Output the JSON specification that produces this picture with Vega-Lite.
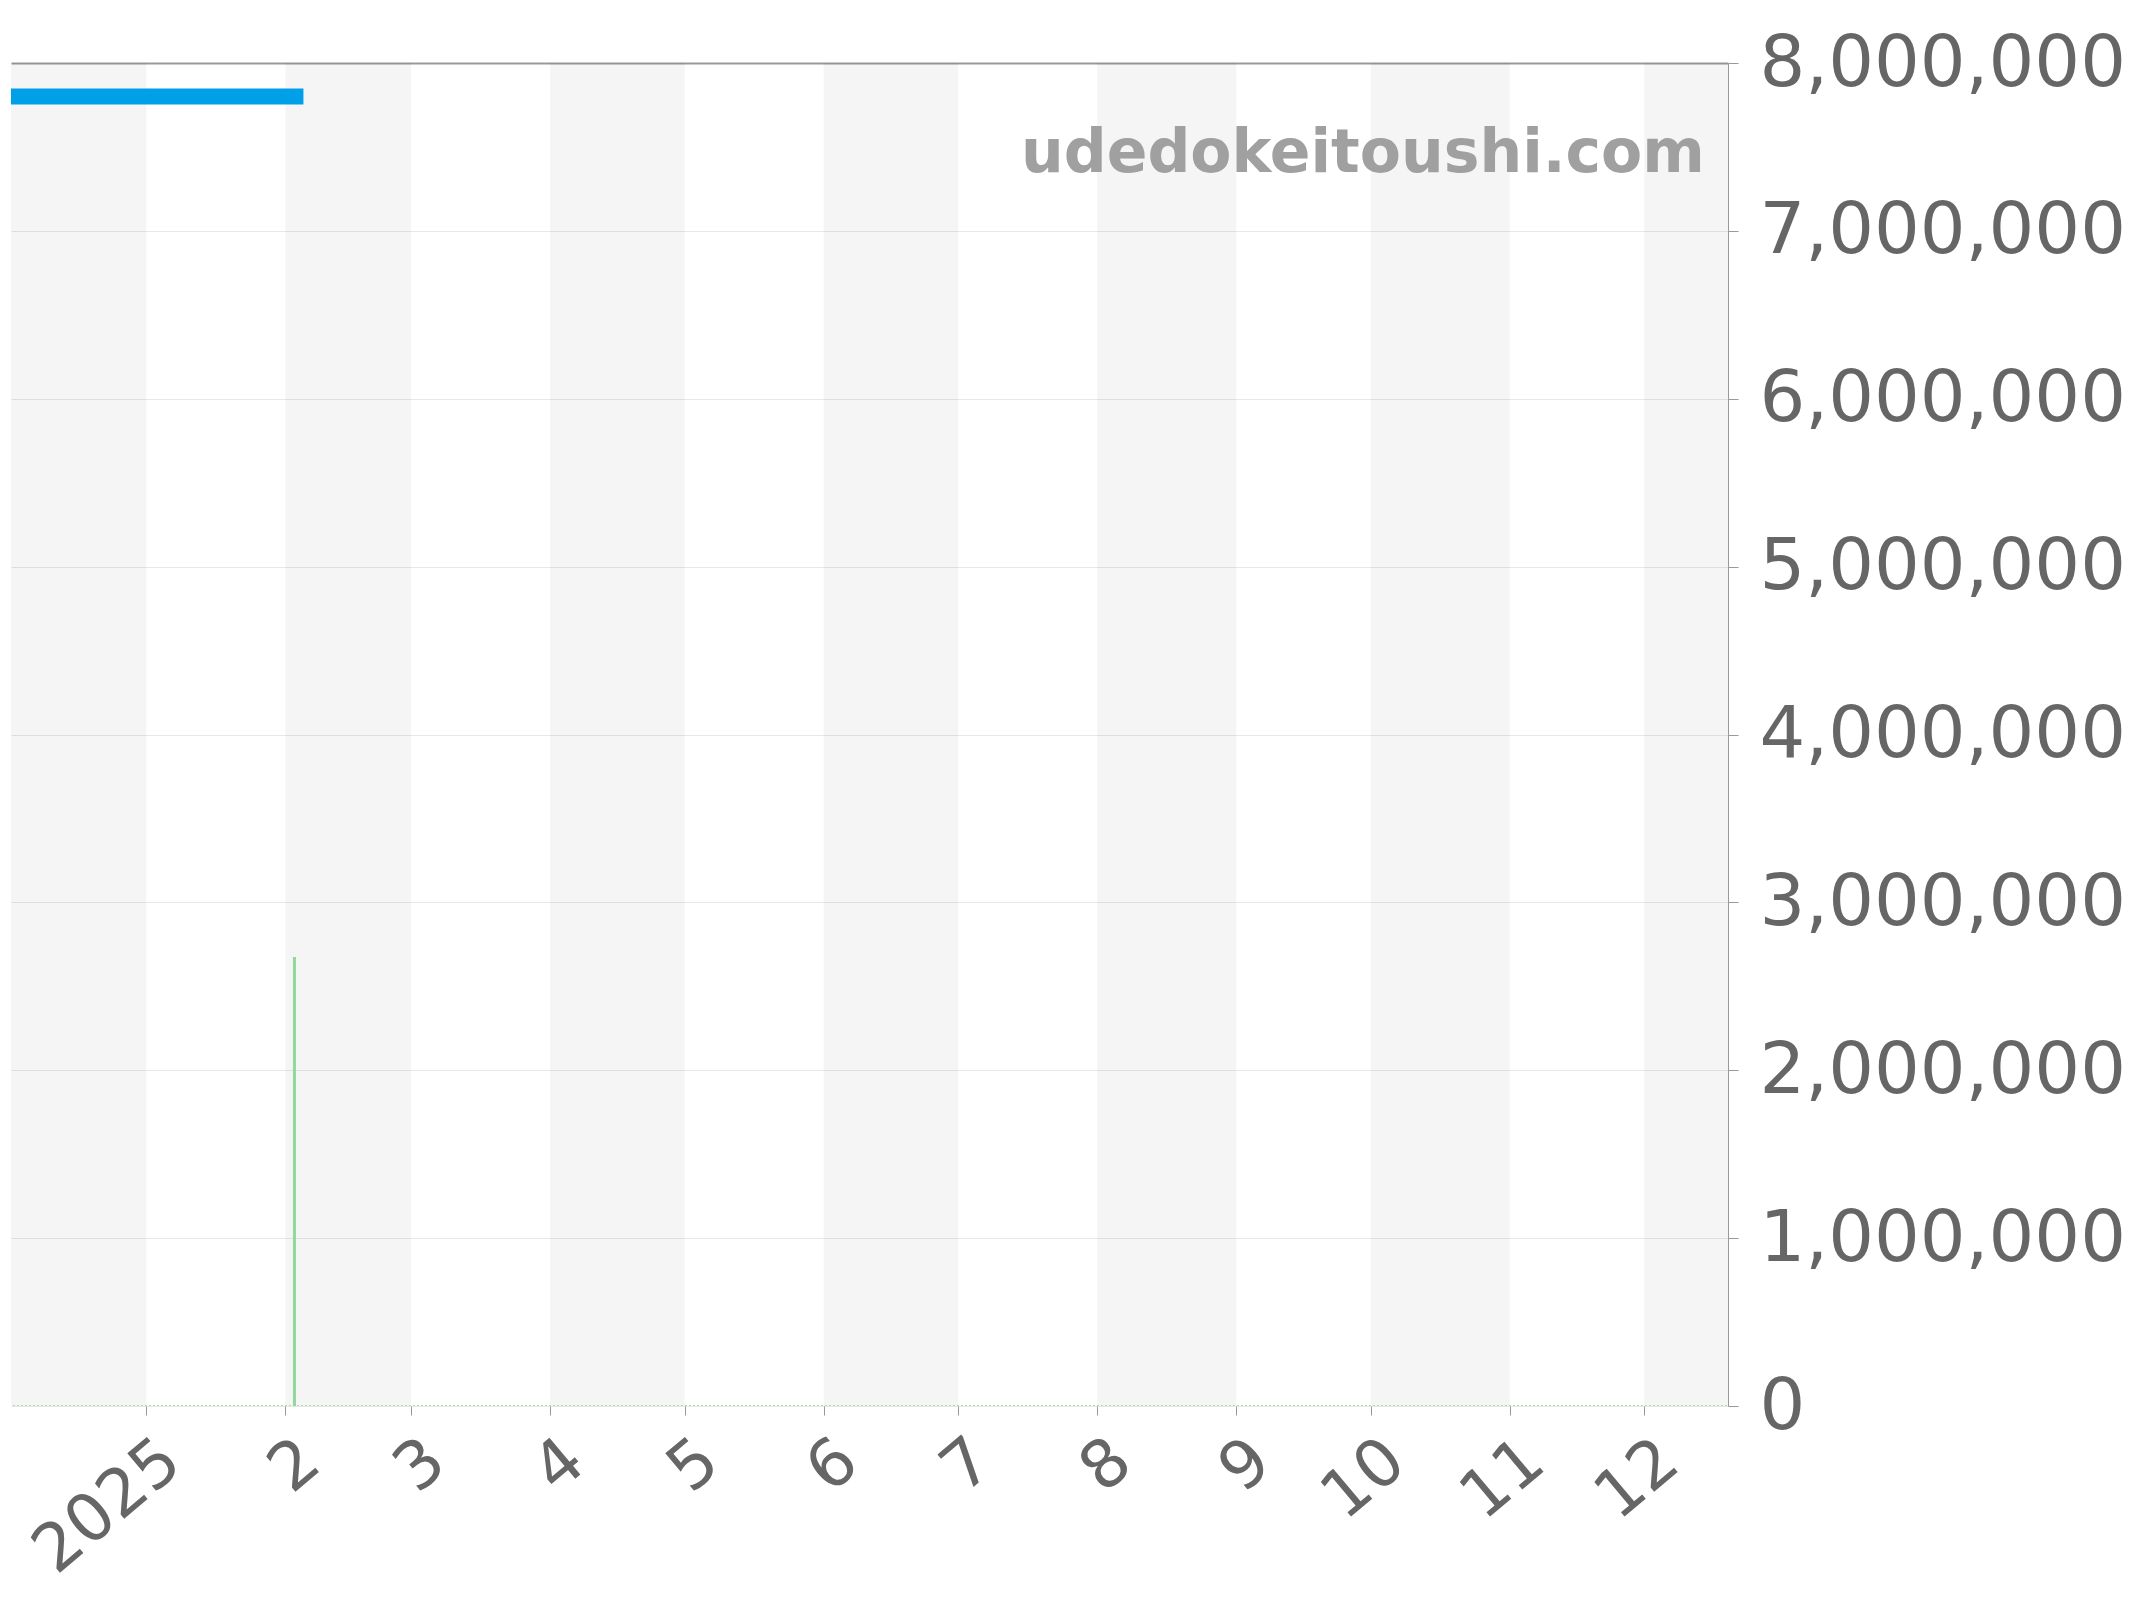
{
  "$schema": "https://vega.github.io/schema/vega-lite/v6.json",
  "autosize": {"type": "none"},
  "padding": {"left": 11, "top": 63, "right": 416, "bottom": 194},
  "width": 1717,
  "height": 1343,
  "background": "white",
  "datasets": {
    "bands": [
      {"start": "2024-11-01", "end": "2025-01-01"},
      {"start": "2025-02-01", "end": "2025-03-01"},
      {"start": "2025-04-01", "end": "2025-05-01"},
      {"start": "2025-06-01", "end": "2025-07-01"},
      {"start": "2025-08-01", "end": "2025-09-01"},
      {"start": "2025-10-01", "end": "2025-11-01"},
      {"start": "2025-12-01", "end": "2026-01-01"}
    ],
    "price": [
      {"date": "2024-11-20", "price": 7800000},
      {"date": "2025-02-05", "price": 7800000}
    ],
    "volume": [
      {"date": "2025-02-03", "volume": 2675000}
    ],
    "base": [
      {"start": "2024-11-01", "end": "2026-01-01", "volume": 0}
    ]
  },
  "layer": [
    {
      "data": {"name": "bands"},
      "mark": {"type": "rect", "color": "#000000", "opacity": 0.04, "clip": true},
      "encoding": {
        "x": {"field": "start", "type": "temporal"},
        "x2": {"field": "end"}
      }
    },
    {
      "data": {"name": "base"},
      "mark": {"type": "rule", "color": "#a6dcae", "strokeWidth": 2, "strokeDash": [2, 2], "clip": true},
      "encoding": {
        "x": {"field": "start", "type": "temporal"},
        "x2": {"field": "end"},
        "y": {"field": "volume", "type": "quantitative"}
      }
    },
    {
      "data": {"name": "volume"},
      "mark": {"type": "rule", "color": "#90d89c", "strokeWidth": 3, "clip": true},
      "encoding": {
        "x": {"field": "date", "type": "temporal"},
        "y": {"field": "volume", "type": "quantitative"},
        "y2": {"datum": 0}
      }
    },
    {
      "data": {"name": "price"},
      "mark": {"type": "line", "color": "#00a0e9", "strokeWidth": 16, "strokeCap": "butt", "clip": true},
      "encoding": {
        "x": {"field": "date", "type": "temporal"},
        "y": {"field": "price", "type": "quantitative"}
      }
    },
    {
      "data": {"values": [{"site": "udedokeitoushi.com"}]},
      "mark": {"type": "text", "align": "right", "baseline": "alphabetic", "font": "DejaVu Sans", "fontWeight": "bold", "fontSize": 60, "color": "#a0a0a0"},
      "encoding": {
        "text": {"field": "site"},
        "x": {"datum": {"year": 2025, "month": 12, "date": 14, "hours": 12, "utc": true}, "type": "temporal"},
        "y": {"datum": 7350000, "type": "quantitative"}
      }
    }
  ],
  "encoding": {
    "x": {
      "type": "temporal",
      "scale": {
        "type": "utc",
        "domain": [
          {"year": 2024, "month": 12, "date": 1, "hours": 19, "utc": true},
          {"year": 2025, "month": 12, "date": 19, "hours": 16, "utc": true}
        ]
      }
    },
    "y": {
      "type": "quantitative",
      "scale": {"domain": [0, 8000000], "nice": false, "zero": true}
    }
  },
  "config": {
    "view": {"stroke": null},
    "font": "DejaVu Sans",
    "axisX": {
      "title": null,
      "domain": false,
      "grid": false,
      "tickColor": "#999999",
      "tickSize": 9,
      "labelAngle": -40,
      "labelAlign": "right",
      "labelBaseline": "middle",
      "labelFontSize": 66,
      "labelColor": "#666666",
      "labelPadding": 37,
      "labelOffset": 25,
      "labelOverlap": false,
      "labelBound": false,
      "labelFlush": false,
      "labelLimit": 0,
      "labelExpr": "utcmonth(datum.value) == 0 ? utcFormat(datum.value, '%Y') : utcFormat(datum.value, '%-m')",
      "tickCount": {"interval": "month", "step": 1}
    },
    "axisY": {
      "title": null,
      "orient": "right",
      "zindex": 1,
      "domain": true,
      "domainColor": "#999999",
      "tickColor": "#999999",
      "tickSize": 10,
      "labelPadding": 21,
      "labelFontSize": 72,
      "labelColor": "#666666",
      "labelLimit": 0,
      "labelOverlap": false,
      "labelFlush": false,
      "format": ",d",
      "tickCount": 8,
      "grid": true,
      "gridColor": {"expr": "datum.value == 8000000 ? '#999999' : '#e8e8e8'"},
      "gridWidth": {"expr": "datum.value == 8000000 ? 2 : 1"}
    }
  }
}
